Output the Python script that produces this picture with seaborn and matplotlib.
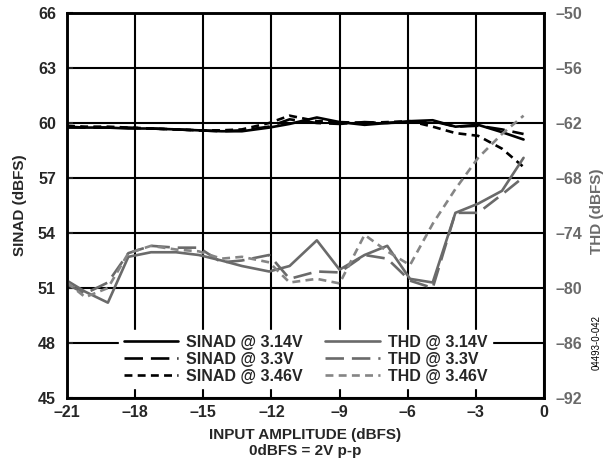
import matplotlib
matplotlib.use("Agg")
import matplotlib.pyplot as plt
import seaborn as sns
import numpy as np

# ---- data ----
x_db = [-21, -20.2, -19.2, -18.3, -17.3, -16.2, -15.2, -14.2, -13.3, -12.1, -11.2,
        -10.0, -9.0, -7.9, -6.9, -5.9, -4.9, -3.9, -2.9, -1.85, -0.9]

sinad_314 = [59.75, 59.75, 59.75, 59.7, 59.7, 59.65, 59.6, 59.55, 59.55, 59.75, 59.95,
             60.3, 60.05, 59.9, 60.0, 60.1, 60.15, 59.8, 59.9, 59.5, 59.1]
sinad_330 = [59.8, 59.75, 59.75, 59.75, 59.7, 59.65, 59.6, 59.55, 59.6, 59.8, 60.2,
             60.0, 59.95, 60.05, 60.0, 60.05, 60.1, 59.8, 59.85, 59.65, 59.4]
sinad_346 = [59.85, 59.8, 59.8, 59.75, 59.7, 59.65, 59.6, 59.6, 59.65, 60.0, 60.4,
             60.1, 60.05, 60.0, 60.05, 60.1, 59.8, 59.45, 59.3, 58.6, 57.6]

thd_314 = [-79.2, -80.4, -81.6, -76.6, -76.1, -76.1, -76.4, -77.0, -77.6, -78.2, -77.6,
           -74.8, -78.0, -76.4, -75.4, -79.0, -79.4, -71.8, -70.8, -69.4, -65.8]
thd_330 = [-79.6, -80.6, -79.4, -76.2, -75.4, -75.6, -75.6, -77.2, -77.0, -76.4, -79.0,
           -78.2, -78.3, -76.4, -76.8, -79.2, -80.0, -71.8, -71.8, -69.8, -67.9]
thd_346 = [-79.4, -81.0, -80.0, -76.2, -75.4, -75.8, -76.0, -76.8, -76.6, -77.2, -79.4,
           -79.0, -79.5, -74.2, -76.0, -77.5, -73.0, -69.2, -65.8, -63.2, -61.2]

x_ticks = [-21, -18, -15, -12, -9, -6, -3, 0]
sinad_ticks = [45, 48, 51, 54, 57, 60, 63, 66]
thd_ticks = [-92, -86, -80, -74, -68, -62, -56, -50]

sinad_labels = ["SINAD @ 3.14V", "SINAD @ 3.3V", "SINAD @ 3.46V"]
thd_labels = ["THD @ 3.14V", "THD @ 3.3V", "THD @ 3.46V"]


def dash_label(v):
    return ("\u2013" + str(abs(v))) if v < 0 else str(v)


# ---- style ----
sns.set_style("white")
plt.rcParams["font.family"] = ["Liberation Sans", "DejaVu Sans"]
plt.rcParams["font.weight"] = "bold"

BLACK = "#000000"
GRAY = "#6a6a6a"
GRAY_LIGHT = "#858585"
LW = 1.9
styles = [None, (7, 3), (3, 2)]
thd_colors = [GRAY, GRAY, GRAY_LIGHT]

fig = plt.figure(figsize=(6.07, 4.62), dpi=100)
ax = fig.add_axes([67 / 607, 1 - 398 / 462, (544 - 67) / 607, (398 - 13) / 462])
ax2 = ax.twinx()

handles = []
for ys, lab, ds in zip([sinad_314, sinad_330, sinad_346], sinad_labels, styles):
    sns.lineplot(x=x_db, y=ys, ax=ax, color=BLACK, linewidth=LW, label=lab, legend=False)
    line = ax.get_lines()[-1]
    if ds is not None:
        line.set_dashes(ds)
    handles.append(line)

for ys, lab, ds, c in zip([thd_314, thd_330, thd_346], thd_labels, styles, thd_colors):
    sns.lineplot(x=x_db, y=ys, ax=ax2, color=c, linewidth=LW, label=lab, legend=False)
    line = ax2.get_lines()[-1]
    if ds is not None:
        line.set_dashes(ds)
    handles.append(line)

ax.set_xlim(-21, 0)
ax.set_ylim(45, 66)
ax2.set_ylim(-92, -50)
ax.set_xticks(x_ticks)
ax.set_xticklabels([dash_label(v) for v in x_ticks])
ax.set_yticks(sinad_ticks)
ax2.set_yticks(thd_ticks)
ax2.set_yticklabels([dash_label(v) for v in thd_ticks])

ax.grid(True, color="black", linewidth=1.5)
ax.set_axisbelow(True)
ax2.grid(False)

for a in (ax, ax2):
    for s in a.spines.values():
        s.set_visible(True)
        s.set_color("black")
        s.set_linewidth(1.8)

ax.tick_params(axis="x", direction="in", length=4, width=1.5, labelsize=11.5, pad=5)
ax.tick_params(axis="y", direction="in", length=4, width=1.5, labelsize=11.5, pad=8)
ax2.tick_params(axis="y", direction="in", length=0, labelsize=11.5, labelcolor=GRAY, pad=8)
for t in ax.get_xticklabels() + ax.get_yticklabels() + ax2.get_yticklabels():
    t.set_fontweight("bold")

ax.set_xlabel("INPUT AMPLITUDE (dBFS)\n0dBFS = 2V p-p", fontsize=11, fontweight="bold", labelpad=6)
ax.set_ylabel("SINAD (dBFS)", fontsize=11, fontweight="bold", labelpad=8)
ax2.set_ylabel("THD (dBFS)", fontsize=11, fontweight="bold", color=GRAY, rotation=90, va="center")
ax2.yaxis.set_label_coords((597 - 67) / 477, (398 - 211) / 385)

leg = ax2.legend(handles=handles, labels=sinad_labels + thd_labels, ncol=2,
                 loc="lower center", bbox_to_anchor=(0.5, 0.0), frameon=True,
                 fancybox=False, edgecolor="white", framealpha=1.0,
                 prop={"weight": "bold", "size": 11.5}, handlelength=3.4,
                 columnspacing=1.4, handletextpad=0.5, labelspacing=0.12,
                 borderpad=0.3, borderaxespad=0.6)

fig.text(597 / 607, 1 - 343 / 462, "04493-0-042", rotation=90, fontsize=7,
         ha="center", va="center", color="black", fontweight="normal")

fig.savefig("out.png", dpi=100)
